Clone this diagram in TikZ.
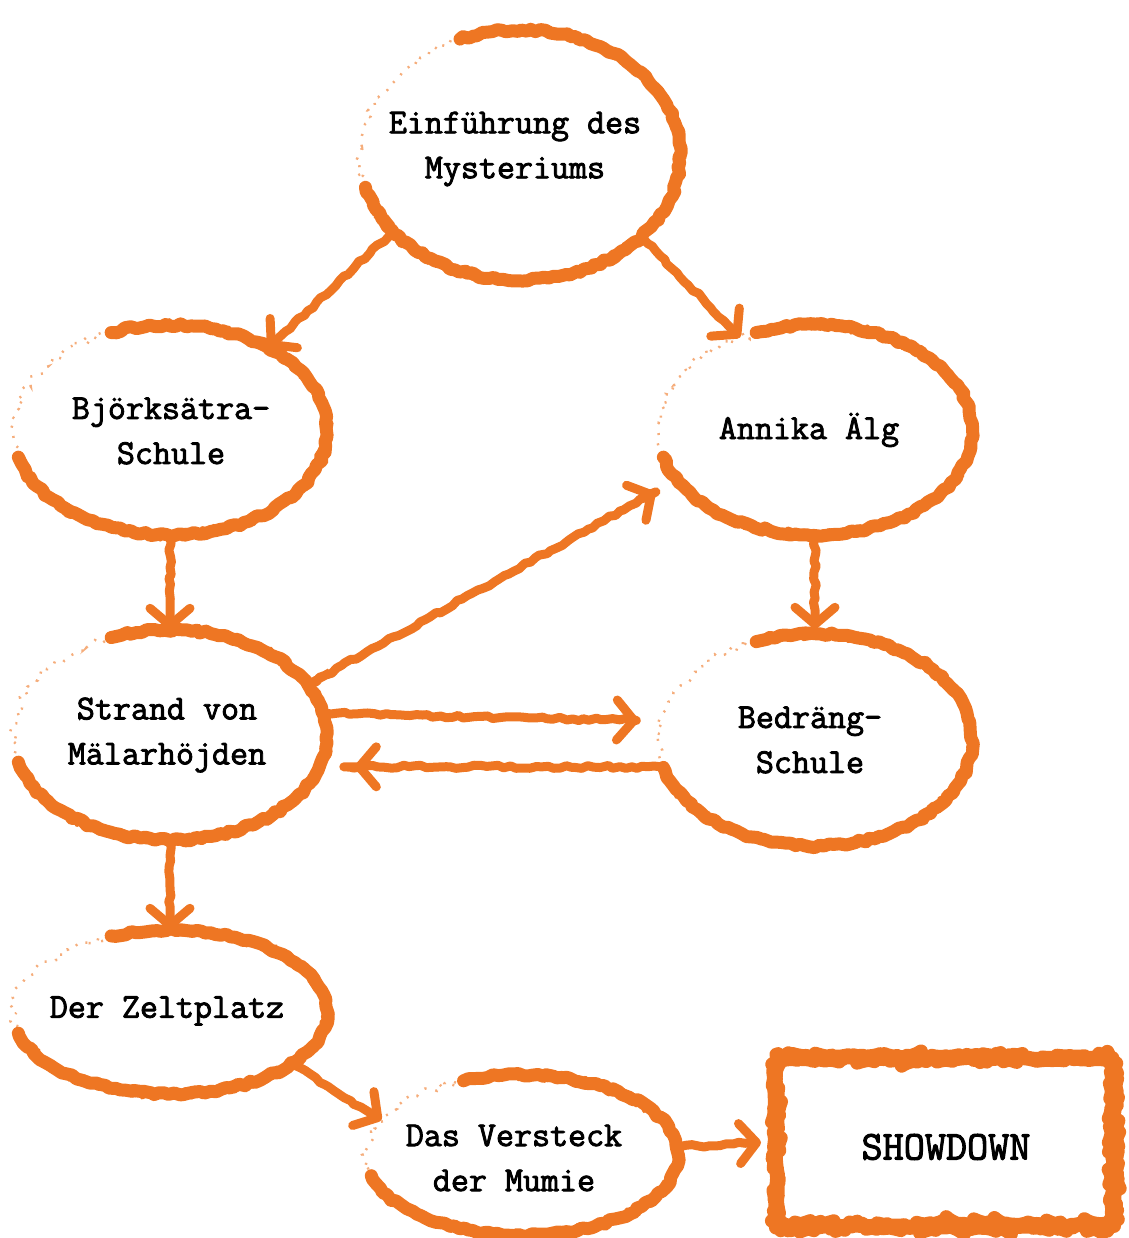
\documentclass[tikz,border=0pt]{standalone}
\usepackage{fontspec}
\newfontfamily\twfont{Latin Modern Mono}[FakeBold=2.4]
\usetikzlibrary{arrows.meta,decorations.pathmorphing,calc,shapes.geometric}
\definecolor{ora}{HTML}{EE7623}
\tikzset{
  bubble/.style={ellipse, draw=none, inner sep=0pt},
  rough/.style={draw=ora, line width=13pt, line join=round, line cap=round,
    decorate, decoration={random steps, segment length=5pt, amplitude=1.6pt}},
  roughthin/.style={draw=ora, line width=5pt, line join=round,
    decorate, decoration={random steps, segment length=3pt, amplitude=4.5pt}},
  faint/.style={draw=ora, line width=2.5pt, opacity=0.6, dash pattern=on 2pt off 9pt,
    decorate, decoration={random steps, segment length=4pt, amplitude=4pt}},
  arr/.style={draw=ora, line width=9pt, line join=round,
    decorate, decoration={random steps, segment length=6pt, amplitude=1.6pt, pre length=2pt, post length=24pt},
    -{Straight Barb[length=17pt, width=40pt, round]}},
  box/.style={rectangle, draw=ora, line width=14pt, rounded corners=14pt, line join=round,
    decorate, decoration={random steps, segment length=6pt, amplitude=1.8pt}},
  lbl/.style={font=\twfont\fontsize{35}{45}\selectfont, align=center, text=black, inner sep=0pt},
}
\newcommand\roughell[3]{%
  \draw[rough] ($(#1.center)+(195:#2 and #3)$) arc[start angle=195, end angle=472, x radius=#2, y radius=#3];
  \draw[roughthin] ($(#1.center)+(205:#2 and #3)$) arc[start angle=205, end angle=455, x radius=#2, y radius=#3];
  \draw[faint] ($(#1.center)+(112:#2 and #3)$) arc[start angle=112, end angle=196, x radius=#2, y radius=#3];
}
\begin{document}
\begin{tikzpicture}[x=1pt, y=1pt]
\useasboundingbox (0,0) rectangle (1128,1238);
% ellipse nodes
\node[bubble, minimum width=320pt, minimum height=250pt] (a) at (520,1083) {};
\node[bubble, minimum width=314pt, minimum height=210pt] (b) at (170,808) {};
\node[bubble, minimum width=314pt, minimum height=210pt] (c) at (815,808) {};
\node[bubble, minimum width=314pt, minimum height=210pt] (d) at (170,503) {};
\node[bubble, minimum width=314pt, minimum height=212pt] (e) at (815,498) {};
\node[bubble, minimum width=314pt, minimum height=164pt] (f) at (170,226) {};
\node[bubble, minimum width=312pt, minimum height=160pt] (g) at (522,83) {};
\node[box, minimum width=338pt, minimum height=168pt] (h) at (945,96) {};
\roughell{a}{160pt}{125pt}
\roughell{b}{157pt}{105pt}
\roughell{c}{157pt}{105pt}
\roughell{d}{157pt}{105pt}
\roughell{e}{157pt}{106pt}
\roughell{f}{157pt}{82pt}
\roughell{g}{156pt}{80pt}
% labels
\node[lbl] (ta) at (515,1089) {Einführung des\\Mysteriums};
\node[lbl] (tb) at (171,807) {Björksätra-\\Schule};
\node[lbl] (tc) at (809,808) {Annika Älg};
\node[lbl] (td) at (167,503) {Strand von\\Mälarhöjden};
\node[lbl] (te) at (810,498) {Bedräng-\\Schule};
\node[lbl] (tf) at (167,227) {Der Zeltplatz};
\node[lbl] (tg) at (514,80) {Das Versteck\\der Mumie};
\node[lbl, font=\twfont\fontsize{41}{44}\selectfont] (th) at (946,91) {SHOWDOWN};
% connectors
\draw[arr] (a.211) -- (b.40);
\draw[arr] (a.-34) -- (c.129);
\draw[arr, shorten <=5pt] (b.-90) -- (d.90);
\draw[arr, shorten <=25pt, shorten >=25pt] (d.20) -- (c.200);
\draw[arr, shorten <=3pt, shorten >=22pt] (d.8) -- (e.173);
\draw[arr, shorten >=35pt] (e.190) -- (d.-12);
\draw[arr, shorten <=5pt, shorten >=5pt] (c.-90) -- (e.90);
\draw[arr, shorten <=5pt] (d.-90) -- (f.90);
\draw[arr] (f.-23) -- (g.166);
\draw[arr, shorten >=8pt] (g.3) -- (h.west);
\end{tikzpicture}
\end{document}
